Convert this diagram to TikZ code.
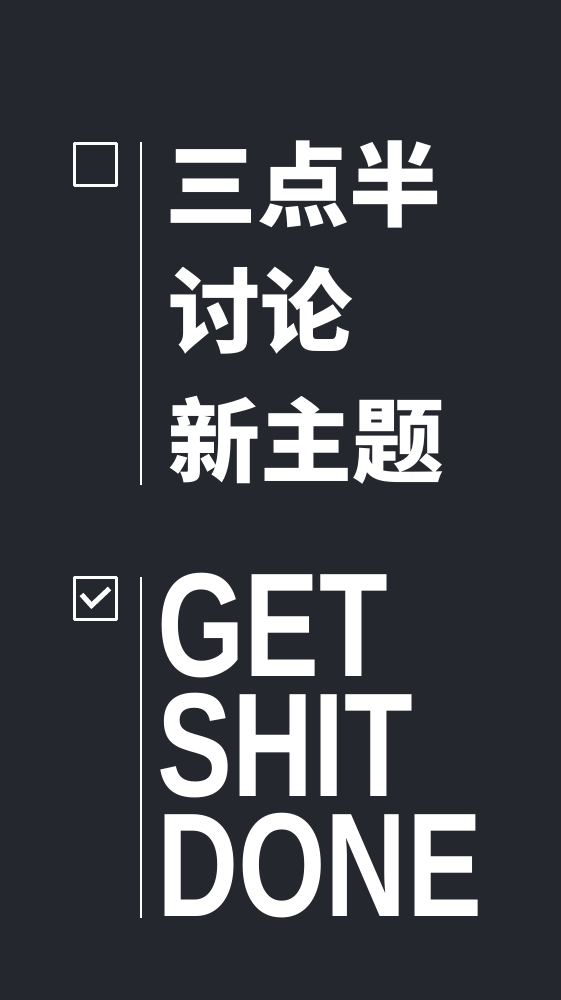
\documentclass[tikz,border=0pt]{standalone}
\usepackage{fontspec}
\setmainfont{Liberation Sans}
\newfontfamily\cjk{Noto Sans CJK SC}
\definecolor{slate}{RGB}{36,39,45}
\begin{document}
\begin{tikzpicture}[x=1pt,y=-1pt,line join=round,
    tick/.style={draw=white,line width=2.2pt,minimum size=42pt,inner sep=0pt},
    rule/.style={white,line width=1.6pt},
    zh/.style={white,anchor=base west,inner sep=0pt,text height=78pt,text depth=6pt,font=\cjk\bfseries\fontsize{92}{92}\selectfont},
    en/.style={white,anchor=south west,inner sep=0pt,align=left,xscale=0.76,font=\bfseries\fontsize{148}{120}\selectfont}]
\useasboundingbox(0,0)rectangle(560,1000);
\fill[slate](-2,-2)rectangle(562,1002);
\node[tick](box1)at(95.5,164.5){};
\node[tick](box2)at(95.5,598.5){};
\draw[white,line width=5pt,line join=miter]
    ([shift={(-14,-4)}]box2.center)coordinate(c1)
    --([shift={(-4,7)}]box2.center)coordinate(c2)
    --([shift={(14,-10)}]box2.center)coordinate(c3);
\coordinate(top1)at(141,142);
\coordinate(bot1)at(141,485);
\coordinate(top2)at(141,577);
\coordinate(bot2)at(141,918);
\draw[rule](top1)--(bot1);
\draw[rule](top2)--(bot2);
\node[zh](l1)at(165,220){三点半};
\node[zh](l2)at(168,345){讨论};
\node[zh](l3)at(168,475){新主题};
\node[en](gsd)at(157,918){GET\\SHIT\\DONE};
\end{tikzpicture}
\end{document}
